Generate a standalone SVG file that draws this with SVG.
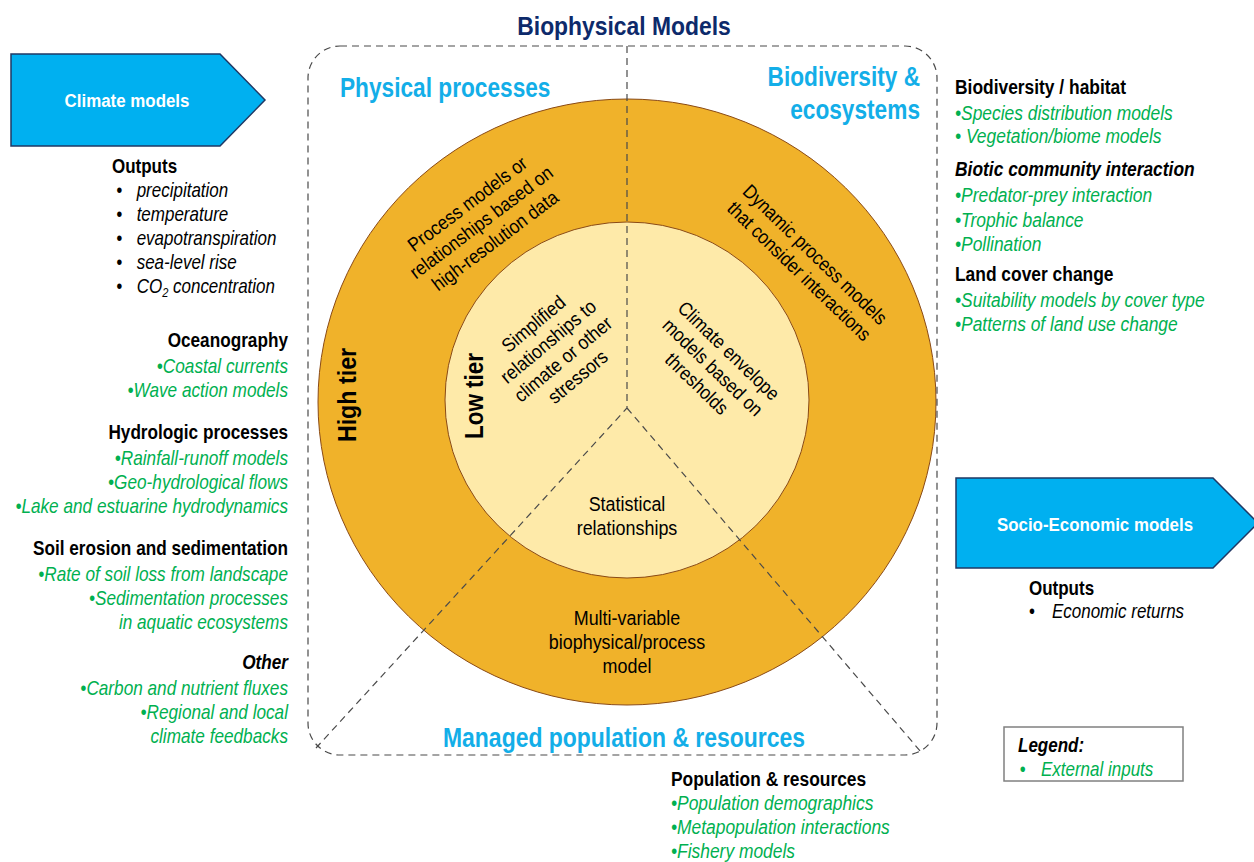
<svg xmlns="http://www.w3.org/2000/svg" width="1254" height="862" viewBox="0 0 1254 862">
<style>
text{font-family:"Liberation Sans",Arial,sans-serif;}
.t{font-size:20px;fill:#000;}
.i{font-style:italic;}
.g{fill:#00b050;font-style:italic;font-size:20px;}
.hd{font-size:20px;font-weight:bold;fill:#000;}
.cy{font-size:27px;font-weight:bold;fill:#13aee8;}
.ct{font-size:19.5px;fill:#000;}
.tier{font-size:25px;font-weight:bold;fill:#000;}
.dash{fill:none;stroke:#4a4a4a;stroke-width:1.2;stroke-dasharray:7 5;}
.arrow{fill:#00b0f0;stroke:#1f3864;stroke-width:1.5;}
.wt{font-size:19px;font-weight:bold;fill:#fff;}
</style>
<rect width="1254" height="862" fill="#fff"/>
<g id="title" transform="translate(624,35) scale(0.88,1)"><text x="0" y="0" text-anchor="middle" style="font-size:26px;font-weight:bold;fill:#0d2a6b">Biophysical Models</text></g>

<g id="rings">
<ellipse cx="627" cy="402" rx="309" ry="303" fill="#f0b22a" stroke="#8a4a16" stroke-width="1"/>
<ellipse cx="627" cy="400" rx="182" ry="178" fill="#feeaa9" stroke="#8a4a16" stroke-width="1"/>
</g>

<g id="connectors">
<rect class="dash" x="308" y="46" width="629" height="709" rx="32"/>
<path class="dash" d="M627 46 L627 408 L316 748 M627 408 L921 752"/>
</g>

<g id="physical-processes" transform="translate(340,97) scale(0.84,1)"><text class="cy" x="0" y="0">Physical processes</text></g>
<g id="biodiversity-ecosystems" transform="translate(920,0) scale(0.84,1)">
<text class="cy" x="0" y="86" text-anchor="end">Biodiversity &amp;</text>
<text class="cy" x="0" y="119" text-anchor="end">ecosystems</text>
</g>
<g id="managed-population" transform="translate(624,747) scale(0.85,1)"><text class="cy" x="0" y="0" text-anchor="middle">Managed population &amp; resources</text></g>

<g id="high-tier"><text class="tier" transform="translate(356,395) rotate(-90) scale(0.93,1)" text-anchor="middle">High tier</text></g>
<g id="low-tier"><text class="tier" transform="translate(483,396) rotate(-90) scale(0.9,1)" text-anchor="middle">Low tier</text></g>

<g id="process-models">
<text class="ct" transform="translate(481,222) rotate(-37) scale(0.89,1)" text-anchor="middle"><tspan x="0" y="-16">Process models or</tspan><tspan x="0" y="7">relationships based on</tspan><tspan x="0" y="30">high-resolution data</tspan></text>
</g>
<g id="dynamic-models">
<text class="ct" transform="translate(807,263) rotate(44) scale(0.88,1)" text-anchor="middle"><tspan x="0" y="-5">Dynamic process models</tspan><tspan x="0" y="18">that consider interactions</tspan></text>
</g>
<g id="simplified">
<text class="ct" transform="translate(557,352) rotate(-40) scale(0.9,1)" text-anchor="middle"><tspan x="0" y="-30">Simplified</tspan><tspan x="0" y="-7">relationships to</tspan><tspan x="0" y="16">climate or other</tspan><tspan x="0" y="39">stressors</tspan></text>
</g>
<g id="climate-envelope">
<text class="ct" transform="translate(713,367) rotate(44) scale(0.88,1)" text-anchor="middle"><tspan x="0" y="-16">Climate envelope</tspan><tspan x="0" y="7">models based on</tspan><tspan x="0" y="30">thresholds</tspan></text>
</g>
<g id="statistical" transform="translate(627,0) scale(0.92,1)">
<text class="ct" text-anchor="middle"><tspan x="0" y="511">Statistical</tspan><tspan x="0" y="535">relationships</tspan></text>
</g>
<g id="multivariable" transform="translate(627,0) scale(0.92,1)">
<text class="ct" text-anchor="middle"><tspan x="0" y="625">Multi-variable</tspan><tspan x="0" y="649">biophysical/process</tspan><tspan x="0" y="673">model</tspan></text>
</g>

<g id="climate-models">
<polygon class="arrow" points="11,54 220,54 265,100 220,146 11,146"/>
<text class="wt" transform="translate(127,107) scale(0.89,1)" text-anchor="middle">Climate models</text>
</g>
<g id="climate-outputs" transform="translate(112,0) scale(0.85,1)">
<text class="hd" x="0" y="173">Outputs</text>
<g class="t i">
<text x="5" y="197">•</text><text x="29" y="197">precipitation</text>
<text x="5" y="221">•</text><text x="29" y="221">temperature</text>
<text x="5" y="245">•</text><text x="29" y="245">evapotranspiration</text>
<text x="5" y="269">•</text><text x="29" y="269">sea-level rise</text>
<text x="5" y="293">•</text><text x="29" y="293">CO<tspan style="font-size:13px" dy="4">2</tspan><tspan dy="-4"> concentration</tspan></text>
</g>
</g>

<g id="physical-inputs" text-anchor="end" transform="translate(288,0) scale(0.86,1)">
<text class="hd" x="0" y="347">Oceanography</text>
<text class="g" x="0" y="373">•Coastal currents</text>
<text class="g" x="0" y="397">•Wave action models</text>
<text class="hd" x="0" y="439">Hydrologic processes</text>
<text class="g" x="0" y="465">•Rainfall-runoff models</text>
<text class="g" x="0" y="489">•Geo-hydrological flows</text>
<text class="g" x="0" y="513">•Lake and estuarine hydrodynamics</text>
<text class="hd" x="0" y="555">Soil erosion and sedimentation</text>
<text class="g" x="0" y="581">•Rate of soil loss from landscape</text>
<text class="g" x="0" y="605">•Sedimentation processes</text>
<text class="g" x="0" y="629">in aquatic ecosystems</text>
<text class="hd i" x="0" y="669">Other</text>
<text class="g" x="0" y="695">•Carbon and nutrient fluxes</text>
<text class="g" x="0" y="719">•Regional and local</text>
<text class="g" x="0" y="743">climate feedbacks</text>
</g>

<g id="biodiversity-inputs" transform="translate(955,0) scale(0.87,1)">
<text class="hd" x="0" y="94">Biodiversity / habitat</text>
<text class="g" x="0" y="120">•Species distribution models</text>
<text class="g" x="0" y="143">•  Vegetation/biome models</text>
<text class="hd i" x="0" y="176">Biotic community interaction</text>
<text class="g" x="0" y="202">•Predator-prey interaction</text>
<text class="g" x="0" y="227">•Trophic balance</text>
<text class="g" x="0" y="251">•Pollination</text>
<text class="hd" x="0" y="281">Land cover change</text>
<text class="g" x="0" y="307">•Suitability models by cover type</text>
<text class="g" x="0" y="331">•Patterns of land use change</text>
</g>

<g id="socio-economic">
<polygon class="arrow" points="956,478 1213,478 1258,523 1213,568 956,568"/>
<text class="wt" transform="translate(1095,531) scale(0.89,1)" text-anchor="middle">Socio-Economic models</text>
</g>
<g id="socio-outputs" transform="translate(1029,0) scale(0.85,1)">
<text class="hd" x="0" y="595">Outputs</text>
<text class="t" x="0" y="618">•</text>
<text class="t i" x="27" y="618">Economic returns</text>
</g>

<g id="population-inputs" transform="translate(671,0) scale(0.87,1)">
<text class="hd" x="0" y="786">Population &amp; resources</text>
<text class="g" x="0" y="810">•Population demographics</text>
<text class="g" x="0" y="834">•Metapopulation interactions</text>
<text class="g" x="0" y="858">•Fishery models</text>
</g>

<g id="legend">
<rect x="1004" y="727" width="179" height="54" fill="#fff" stroke="#808080" stroke-width="1.5"/>
<g transform="translate(1018,0) scale(0.85,1)">
<text class="hd i" x="0" y="752">Legend:</text>
<text class="g" x="2" y="776" style="font-style:normal">•</text>
<text class="g" x="27" y="776">External inputs</text>
</g>
</g>
</svg>
